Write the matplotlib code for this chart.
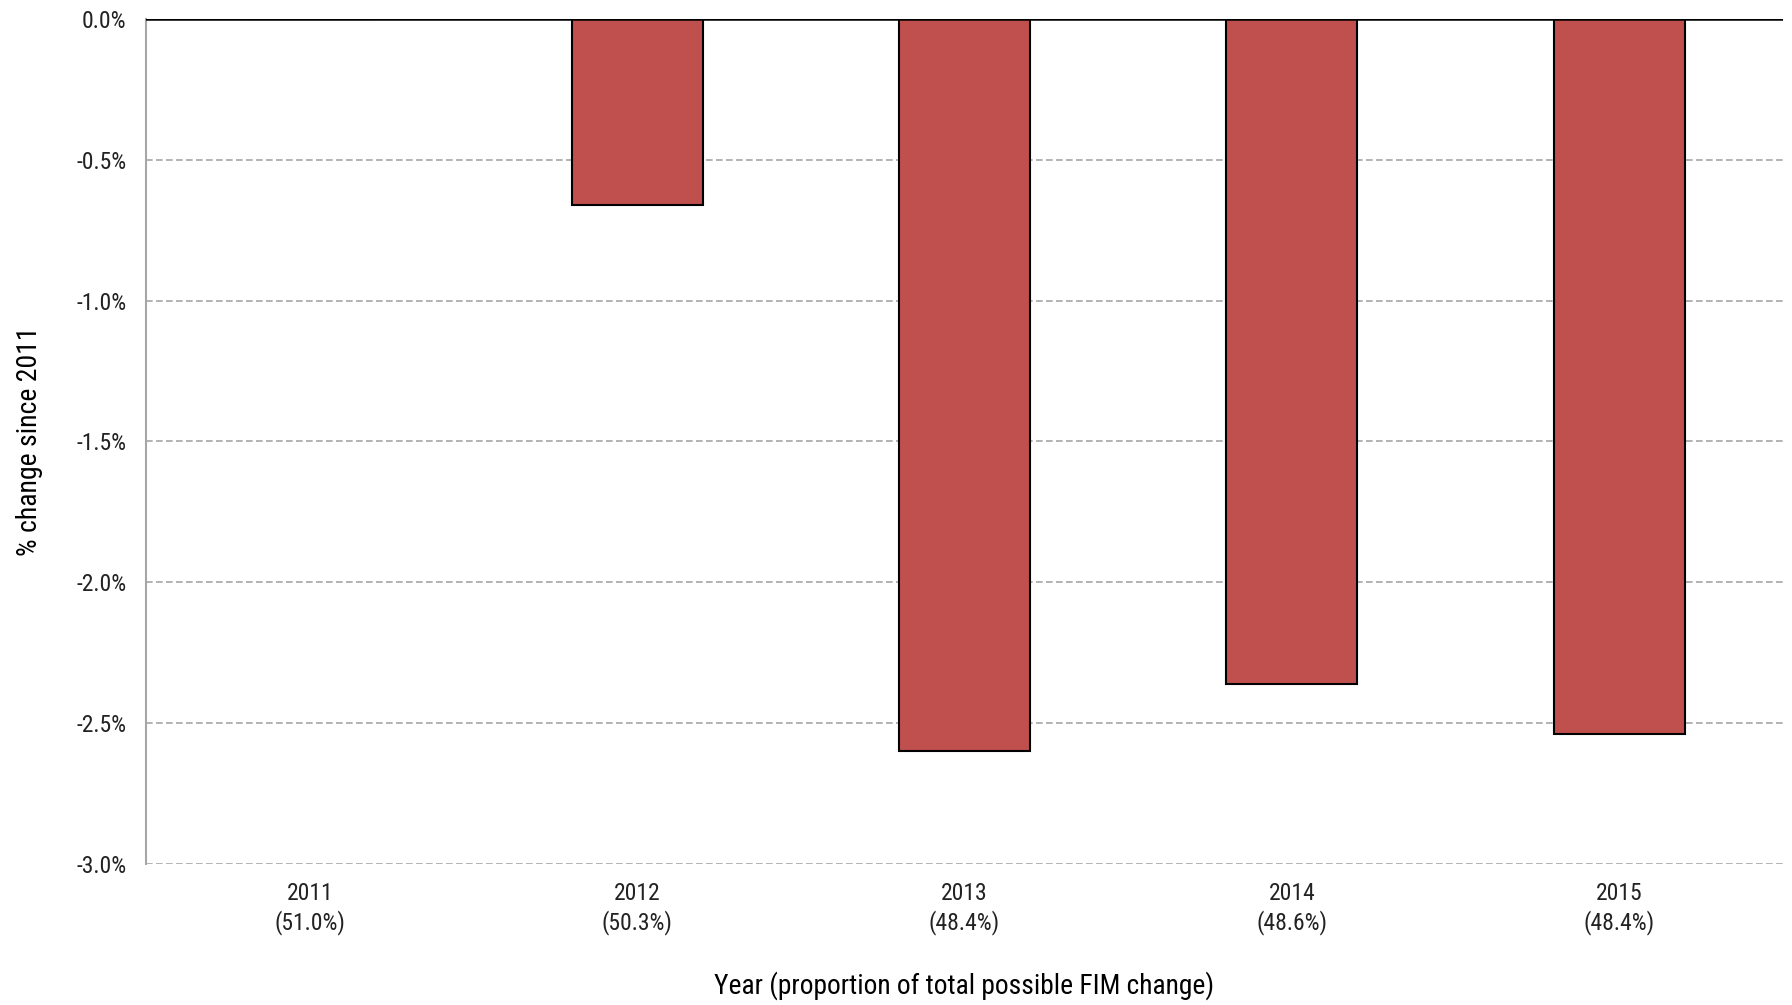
import matplotlib
matplotlib.use("Agg")
import matplotlib.pyplot as plt
from matplotlib.ticker import FuncFormatter

years = ["2011", "2012", "2013", "2014", "2015"]
proportion = ["51.0%", "50.3%", "48.4%", "48.6%", "48.4%"]
pct_change = [0.0, -0.66, -2.60, -2.36, -2.54]
yticks = [0.0, -0.5, -1.0, -1.5, -2.0, -2.5, -3.0]

# narrow font if there is one, else Arial-like
plt.rcParams['font.family'] = ['Roboto Condensed', 'Liberation Sans Narrow', 'Liberation Sans', 'DejaVu Sans']

fig = plt.figure(figsize=(17.92, 10.05), dpi=100)
ax = fig.add_axes([146/1792, 1 - 864/1005, (1783-146)/1792, (864-19)/1005])

x = list(range(len(years)))
ax.bar(x, pct_change, width=0.4, color='#c0504d', edgecolor='black', linewidth=1.5, zorder=3)

ax.set_xlim(-0.5, 4.5)
ax.set_ylim(-3.0, 0.0)
ax.set_yticks(yticks)
ax.yaxis.set_major_formatter(FuncFormatter(lambda v, p: f"{v:.1f}%"))
ax.set_xticks(x)
ax.set_xticklabels([f"{y}\n({p})" for y, p in zip(years, proportion)], fontsize=17, color='#222222',
                   linespacing=1.25)
ax.tick_params(axis='y', labelsize=17, labelcolor='#222222', length=0, pad=14)
ax.tick_params(axis='x', length=0, pad=13)

ax.grid(axis='y', color='#a6a6a6', linestyle=(0, (4, 2)), linewidth=1.2, zorder=0)
ax.axhline(0, color='black', linewidth=1.8, zorder=4)

for s in ['top', 'right', 'bottom']:
    ax.spines[s].set_visible(False)
ax.spines['left'].set_color('#a6a6a6')
ax.spines['left'].set_linewidth(1.5)

ax.set_ylabel("% change since 2011", fontsize=20, labelpad=24)
ax.set_xlabel("Year (proportion of total possible FIM change)", fontsize=19.8, labelpad=26)

fig.savefig("out.png", dpi=100)
